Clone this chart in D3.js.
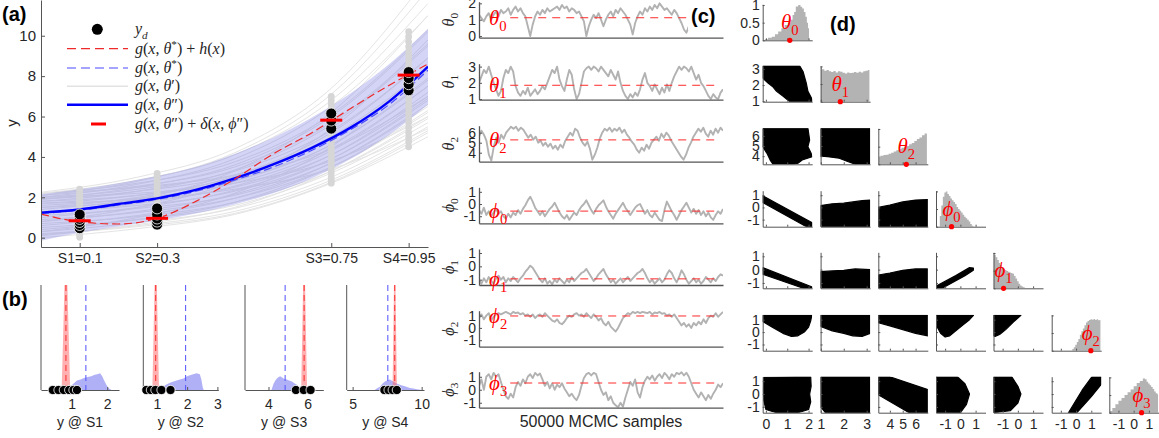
<!DOCTYPE html>
<html>
<head>
<meta charset="utf-8">
<script src="https://cdn.jsdelivr.net/npm/d3@7"></script>
<style>
  body { margin: 0; background: #fff; }
  svg { display: block; }
</style>
</head>
<body>
<svg id="fig" width="1159" height="438"></svg>
<script>
// ---------------- data ----------------
// (a) model curves sampled on a common x grid
const curveX    = [0, 0.1, 0.2, 0.3, 0.4, 0.5, 0.6, 0.7, 0.8, 0.9, 1.0];
const gPost     = [1.24, 1.40, 1.67, 1.95, 2.37, 2.94, 3.63, 4.45, 5.45, 6.75, 8.47];   // g(x, θ'')
const gTrue     = [1.20, 1.36, 1.62, 1.90, 2.30, 2.85, 3.50, 4.33, 5.35, 6.60, 8.30];   // g(x, θ*)
const gTrueDisc = [1.17, 0.79, 0.68, 0.96, 1.80, 2.90, 4.15, 5.20, 6.40, 7.55, 8.60];   // g(x, θ*) + h(x)
const bandLo    = [-0.15, 0.25, 0.55, 0.85, 1.20, 1.65, 2.20, 2.95, 3.90, 5.10, 6.60];
const bandHi    = [2.15, 2.40, 2.70, 3.05, 3.50, 4.15, 4.95, 5.95, 7.15, 8.60, 10.35];

// prior draws g(x, θ'), values at x = 0, .25, .5, .75, 1
const priorX = [0, 0.25, 0.5, 0.75, 1];
const priorCurves = [
  [0.00, 0.45, 1.15, 2.70, 5.00], [0.15, 0.60, 1.30, 2.85, 5.30], [0.30, 0.75, 1.45, 3.00, 5.50],
  [0.50, 0.90, 1.60, 3.20, 5.70], [0.10, 0.65, 1.50, 3.30, 6.00], [0.70, 1.05, 1.75, 3.30, 5.90],
  [0.40, 0.90, 1.75, 3.50, 6.30], [0.90, 1.25, 1.95, 3.50, 6.20], [0.60, 1.10, 1.95, 3.70, 6.60],
  [1.10, 1.45, 2.10, 3.70, 6.50], [0.80, 1.30, 2.15, 3.90, 6.90], [1.30, 1.60, 2.30, 3.90, 6.80],
  [1.00, 1.50, 2.35, 4.10, 7.20], [1.50, 1.80, 2.50, 4.10, 7.00], [1.20, 1.70, 2.55, 4.30, 7.50],
  [1.60, 1.95, 2.70, 4.40, 7.50], [1.40, 1.90, 2.80, 4.60, 7.90], [1.80, 2.10, 2.85, 4.60, 7.80],
  [1.70, 2.10, 3.00, 4.90, 8.30], [1.90, 2.30, 3.10, 5.00, 8.40], [1.50, 2.00, 3.05, 5.20, 8.90],
  [2.00, 2.40, 3.30, 5.30, 8.90], [1.80, 2.30, 3.35, 5.60, 9.50], [2.10, 2.55, 3.50, 5.70, 9.60],
  [1.90, 2.50, 3.60, 6.00, 10.2], [2.20, 2.70, 3.75, 6.10, 10.3], [2.00, 2.65, 3.90, 6.50, 11.0],
  [2.20, 2.85, 4.10, 6.80, 11.6], [2.10, 2.80, 4.20, 7.10, 12.3], [2.25, 3.00, 4.40, 7.40, 12.9],
  [0.20, 0.55, 1.20, 2.75, 5.20], [0.30, 1.00, 2.20, 4.50, 8.50], [0.80, 1.50, 2.80, 5.40, 9.80],
  [1.20, 1.90, 3.30, 6.20, 11.0], [2.00, 2.20, 2.70, 3.80, 6.00], [1.70, 1.90, 2.40, 3.40, 5.40],
  [2.20, 2.50, 3.10, 4.40, 7.00]
];

// measurement sites
const sitesX = [0.1, 0.3, 0.75, 0.95];
const siteLabels = ["S1=0.1", "S2=0.3", "S3=0.75", "S4=0.95"];
const siteNames = ["S1", "S2", "S3", "S4"];

// observed data y_d at each site
const yObs = [
  [0.47, 0.63, 0.78, 0.93, 1.05, 1.15],
  [0.65, 0.80, 0.95, 1.15, 1.45],
  [5.40, 5.80, 6.15],
  [7.30, 7.60, 7.90, 8.20]
];
// prior predictive values at each site
const predDots = [
  [0.02, 0.15, 0.22, 0.35, 0.41, 0.55, 0.62, 0.70, 0.84, 0.90, 1.03, 1.12, 1.20, 1.31, 1.38, 1.50, 1.57, 1.66, 1.75, 1.86, 1.95, 2.04, 2.15, 2.27, 2.40],
  [0.60, 0.72, 0.80, 0.93, 1.02, 1.15, 1.24, 1.36, 1.45, 1.58, 1.66, 1.79, 1.88, 2.00, 2.10, 2.22, 2.33, 2.45, 2.56, 2.68, 2.80, 2.92, 3.05, 3.18],
  [2.70, 2.85, 3.00, 3.20, 3.35, 3.50, 3.70, 3.85, 4.00, 4.20, 4.35, 4.50, 4.70, 4.85, 5.00, 5.20, 5.35, 5.50, 5.70, 5.85, 6.05, 6.20, 6.40, 6.60, 6.80, 7.00],
  [4.50, 4.75, 4.95, 5.20, 5.45, 5.70, 5.90, 6.15, 6.40, 6.60, 6.85, 7.10, 7.30, 7.55, 7.80, 8.00, 8.25, 8.50, 8.75, 9.00, 9.20, 9.45, 9.70, 9.95, 10.2]
];
// posterior mean of g + δ at each site, and g(x, θ'') at each site
const siteCorrected = [0.84, 0.96, 5.82, 8.05];
const siteModel = [1.40, 1.95, 4.85, 7.55];

// (b) predictive densities at each site: [y, density]
const blueDens = [
  [[0.85,0],[0.95,0.03],[1.05,0.06],[1.15,0.09],[1.25,0.10],[1.35,0.115],[1.45,0.125],[1.55,0.13],[1.65,0.145],[1.72,0.15],[1.80,0.16],[1.86,0.13],[1.90,0.10],[1.96,0.06],[2.03,0.02],[2.12,0]],
  [[1.10,0],[1.20,0.03],[1.30,0.05],[1.43,0.07],[1.55,0.08],[1.65,0.09],[1.76,0.10],[1.88,0.11],[2.00,0.13],[2.09,0.14],[2.20,0.15],[2.31,0.16],[2.42,0.15],[2.47,0.10],[2.52,0.02],[2.55,0]],
  [[4.15,0],[4.26,0.06],[4.35,0.09],[4.43,0.11],[4.52,0.125],[4.60,0.13],[4.70,0.12],[4.77,0.11],[4.85,0.105],[4.94,0.10],[5.05,0.09],[5.20,0.08],[5.32,0.065],[5.45,0.05],[5.55,0.03],[5.63,0.015],[5.70,0]],
  [[6.60,0],[6.80,0.02],[6.98,0.03],[7.15,0.06],[7.34,0.08],[7.50,0.09],[7.70,0.10],[7.82,0.09],[7.94,0.08],[8.15,0.065],[8.42,0.05],[8.65,0.04],[8.90,0.03],[9.15,0.02],[9.39,0.015],[9.65,0.008],[9.90,0.003],[10.0,0]]
];
const redDens = [
  [[0.72,0],[0.78,0.75],[0.84,1.55],[0.90,0.75],[0.96,0]],
  [[0.85,0],[0.905,0.75],[0.96,1.55],[1.015,0.75],[1.07,0]],
  [[5.67,0],[5.745,0.75],[5.82,1.55],[5.895,0.75],[5.97,0]],
  [[7.89,0],[7.97,0.75],[8.05,1.55],[8.13,0.75],[8.21,0]]
];

// (c) MCMC chains over 50000 samples
const traces = [
  [1.3,1.1,0.9,1.2,1.4,1.0,1.3,1.5,1.2,1.6,1.4, 1.5,1.7,1.3,1.6,1.8,1.5,1.7,1.4,1.2, 0.6,0.0,0.7, 1.2,1.5,1.3,1.6,1.4,1.7,1.5,1.6,
   1.7,1.8,1.6,1.9,1.7,1.8,1.5,1.7,1.6,1.4,1.5,1.2,0.9, 0.0,0.6, 1.0,1.3,1.1,1.4,1.0, 0.6,1.0, 1.3,1.5,1.2,1.6,1.4,1.7,1.5,1.3,1.0,0.7,
   0.1,0.8, 1.2,1.5,1.3,1.7,1.5,1.8,1.6,1.9,1.7,2.0,1.8,1.6,1.7,1.5,1.3,1.6,1.4,1.1,0.8, 0.4,0.2,0.6, 1.0,1.3,1.1,1.4,1.2,1.5,1.3,1.4,1.2,1.5,1.3,1.4,1.2,1.3],
  [2.0,2.4,2.8,2.6,3.0, 2.5,2.0,1.6,1.2,1.5, 2.3,2.8,2.6,3.0,2.7, 1.8,1.4,1.2,1.5,1.3,1.7,1.2,1.4,1.6,1.3,1.5, 1.8,1.6,2.0,2.4, 2.8,2.6,3.0,2.2,
   1.8,1.5,2.2, 2.8,2.5,1.6, 1.0,1.3,2.0, 2.7,2.9,3.0,2.8,3.0,2.9,2.7,3.0,2.8,2.6, 2.4,2.8,2.5,2.2,2.7,2.0, 1.5,1.2,1.0,1.3,1.1,1.4,1.2,1.6,
   2.2,2.6,2.0, 1.8,1.5,1.9,1.6,1.3,1.7,1.4,1.9,1.5,2.0,2.4, 2.7,3.0,2.8,3.0,2.9,2.7,3.0,2.6, 2.2,2.5,2.0,1.8,1.5,1.2,1.0, 1.3,1.1,1.0,1.4,1.6],
  [5.6,6.2,5.8,5.2, 3.8,3.2,4.6, 5.5,5.0,5.8,5.4,6.0, 6.3,6.6,6.4,6.6,6.2,6.5,6.3,5.9, 5.5,5.8,5.3,5.6,5.0, 5.2,4.7,5.0,4.6,4.9,4.4,4.7,
   4.3,4.8,4.5,5.2, 5.6,6.0,5.7,6.4,6.2, 5.5,5.0,4.7,5.1,4.4, 3.3,3.8,4.5, 5.4,6.0,6.4,6.2,6.5,6.1,6.4,6.2,6.5,6.0,6.3,5.8,
   5.5,5.1,4.8,4.3,4.0,4.5, 4.2,4.8,4.4,5.0,5.3, 5.6,5.2,5.9,5.5,6.0,5.7,5.2,4.8, 4.4,4.0,3.6,3.3,3.8,4.5,5.0, 5.6,6.0,6.4,6.1,6.5,5.9,5.6,6.2,5.8,6.4,6.0,6.5,6.2],
  [-0.5,-0.8,-0.3,-0.9,-0.6,-1.0,-0.7,-0.4,-0.8, -0.6,-1.0,-1.2,-0.8,-1.1,-0.7, -0.9,-0.5,-0.8,-0.4,-0.1,0.3, 0.6,0.2,-0.3,-0.6,
   -0.9,-0.6,-1.0,-0.7,-0.4,-0.2, 0.1,-0.3,-0.7,-1.0,-1.2,-0.9, -1.3,-1.0,-0.7,-0.9,-0.5,-0.2,0.0, 0.3,-0.1,-0.5,-0.8,-0.4,-0.1,0.1,
   0.3,-0.2,-0.6,-0.9,-1.2,-0.8,-0.5,-0.2, 0.1,-0.3,-0.6,-0.9,-0.6,-0.3,-0.1, 0.0,-0.4,-0.8,-0.5,-0.9,-1.1,-0.7,-1.0,-1.3,-1.4,
   -0.5,0.2,-0.2,-0.6,-0.9,-1.3,-0.9, -0.5,-0.2,0.1,-0.3,-0.7,-0.4,-0.8,-0.5, -0.9,-0.6,-1.0,-0.7,-1.1,-1.3,-0.9,-0.6,-0.8,-0.4],
  [-1.0,-1.3,-0.9,-1.2,-0.8,-1.1,-1.3,-0.9,-0.7,-1.0,-0.8, -1.2,-0.9,-1.1,-0.8,-1.0,-1.2,-0.9,-0.7,-0.4,-0.2, 0.05,-0.1,-0.4,-0.7,-1.0,
   -1.2,-0.9,-1.3,-1.1,-1.35,-1.0,-1.2,-0.9,-1.1,-1.3, -1.0,-1.2,-0.8,-1.1,-0.9,-0.7,-0.5,-0.4, -0.2,-0.5,-0.8,-1.1,-0.9,-0.6,-0.4,
   -0.2,-0.6,-0.9,-1.2,-1.0,-1.3,-1.1,-0.9, -1.2,-1.0,-0.8,-1.1,-0.9,-0.7,-0.5,-0.4, -0.2,-0.5,-0.9,-1.2,-1.0,-1.3,-1.1,
   -0.9,-1.2,-1.0,-0.6,-0.3,-0.5,-0.9, -1.2,-0.8,-0.3,-0.6,-1.0,-1.3,-1.1,-0.9, -1.2,-1.0,-1.3,-1.1,-0.8,-1.0,-1.2,-0.9,-1.1,-0.8,-0.6,-0.7],
  [0.8,1.1,0.7,1.0,1.2,0.6,0.9,1.1,1.2, 1.1,1.2,1.3,1.2,1.1,1.3,1.2,1.25,1.1,1.2,1.0,1.1, 0.9,1.1,0.8,1.0,1.1,0.9,1.2,1.0,0.8,0.6,
   0.5,0.7,0.4,0.3,0.5,0.8,1.0,0.9,1.1,1.2, 1.0,1.1,0.9,1.2,1.0,0.8,1.1,0.9,0.6,0.8, 0.4,0.2,0.5,0.1,-0.1,-0.3,0.0,0.4,
   0.8,1.0,1.2,1.1,1.3,1.2,1.3,1.2, 1.3,1.25,1.2,1.3,1.1,1.25,1.2,1.3,1.15,1.2,1.0,1.1,0.9, 1.1,0.8,0.5,0.2,0.4,0.1,0.3,0.0,0.4,
   0.2,0.5,0.3,0.7,0.4,0.8,1.0,0.9,1.2,0.9,1.1,1.3],
  [0.3,0.8,0.0,1.0,1.2,0.8,1.3,1.0,1.2, 0.6,0.0,-0.5,-0.7,-0.3,-0.6,0.2,0.6, 0.3,0.8,0.5,1.0,1.2,0.9,1.3,1.1,1.25,
   0.8,0.3,0.6,0.1,0.5,0.0,0.4,0.2,0.5,0.1, -0.2,-0.5,-0.3,-0.6,-0.8,-0.4,0.3, 0.9,1.2,1.3,1.1,1.3,1.2,
   0.6,0.0,-0.4,-0.2,-0.8,-0.5,-1.0,-1.2,-1.35,-1.0,-1.3, -0.6,0.0,0.6,0.3,0.8,-0.2,-0.6,
   0.2,0.7,1.0,0.8,1.1,0.7,1.0,1.2,0.9,1.3,1.1,0.8,1.2,1.0,1.3,1.2,1.35,1.1,1.3,1.0,
   0.5,0.0,-0.3,-0.6,-0.2,-0.5,-0.8,-0.4,-0.7,-0.3,0.0, 0.4,0.2,0.5]
];
// true parameter values
const trueVals = [1.12, 1.85, 5.28, -0.58, -0.94, 0.97, 0.52];
const paramSym = [["θ","0"],["θ","1"],["θ","2"],["ϕ","0"],["ϕ","1"],["ϕ","2"],["ϕ","3"]];
const traceTicks = [[0,1,2],[1,2,3],[4,5,6],[-1,0,1],[-1,0,1],[-1,0,1],[-1,0,1]];

// (d) marginal histograms: [value, relative frequency]
const hists = [
  [[-0.1,0],[0.0,0.03],[0.2,0.07],[0.35,0.10],[0.5,0.17],[0.65,0.25],[0.8,0.34],[0.96,0.43],[1.1,0.50],[1.2,0.58],[1.3,0.72],[1.35,0.80],[1.45,0.96],[1.58,1.0],[1.66,0.95],[1.74,0.90],[1.82,0.80],[1.89,0.67],[1.95,0.50],[2.0,0.34],[2.04,0]],
  [[1.0,0.97],[1.1,0.92],[1.2,0.88],[1.3,0.90],[1.4,0.86],[1.5,0.84],[1.6,0.87],[1.7,0.83],[1.8,0.86],[1.9,0.85],[2.0,0.82],[2.1,0.80],[2.2,0.83],[2.3,0.81],[2.4,0.82],[2.5,0.84],[2.6,0.82],[2.7,0.85],[2.8,0.83],[2.9,0.86],[3.0,0.88],[3.1,0.90],[3.12,0.90]],
  [[3.15,0.22],[3.4,0.24],[3.6,0.26],[3.8,0.27],[4.0,0.30],[4.2,0.33],[4.4,0.36],[4.6,0.40],[4.8,0.43],[5.0,0.47],[5.2,0.50],[5.4,0.52],[5.6,0.57],[5.8,0.60],[6.0,0.66],[6.2,0.72],[6.4,0.76],[6.6,0.82],[6.8,0.87],[6.88,0.87]],
  [[-1.4,0],[-1.3,0.30],[-1.2,0.60],[-1.1,0.85],[-1.0,0.97],[-0.9,1.0],[-0.8,0.93],[-0.7,0.87],[-0.6,0.80],[-0.5,0.75],[-0.4,0.70],[-0.3,0.64],[-0.2,0.56],[-0.1,0.50],[0.0,0.45],[0.1,0.40],[0.2,0.34],[0.3,0.28],[0.4,0.24],[0.5,0.20],[0.6,0.15],[0.7,0.08],[0.8,0.03],[0.9,0]],
  [[-1.6,1.0],[-1.5,0.95],[-1.4,0.88],[-1.3,0.80],[-1.2,0.72],[-1.1,0.66],[-1.0,0.60],[-0.9,0.55],[-0.8,0.52],[-0.7,0.49],[-0.6,0.47],[-0.5,0.45],[-0.4,0.43],[-0.3,0.41],[-0.2,0.35],[-0.1,0.28],[0.0,0.20],[0.1,0.13],[0.2,0.08],[0.3,0.05],[0.4,0.03],[0.5,0.01],[0.56,0]],
  [[-0.3,0],[-0.2,0.05],[-0.1,0.10],[0.0,0.17],[0.1,0.25],[0.2,0.33],[0.3,0.45],[0.4,0.55],[0.5,0.63],[0.6,0.72],[0.7,0.80],[0.8,0.84],[0.9,0.87],[1.0,0.89],[1.1,0.88],[1.2,0.90],[1.3,0.87],[1.4,0.89],[1.5,0.86],[1.6,0.87]],
  [[-1.6,0],[-1.5,0.05],[-1.3,0.13],[-1.1,0.24],[-0.9,0.34],[-0.7,0.42],[-0.5,0.50],[-0.3,0.58],[-0.1,0.66],[0.1,0.75],[0.3,0.84],[0.5,0.90],[0.7,0.97],[0.8,0.95],[0.9,0.88],[1.0,0.83],[1.1,0.78],[1.2,0.73],[1.3,0.67],[1.4,0.60],[1.5,0.55],[1.6,0.52]]
];
// (d) outlines of the pairwise sample clouds: key "row-col", points [col param, row param]
const clouds = {
  "1-0": [[-0.15,3.2],[1.58,3.2],[1.74,2.84],[1.89,2.13],[1.97,1.61],[2.17,1.1],[2.17,0.97],[1.12,0.97],[0.81,1.31],[0.5,1.61],[0.34,1.88],[0.1,2.13],[-0.15,2.44]],
  "2-0": [[-0.15,6.75],[1.97,6.75],[2.05,5.6],[1.97,4.94],[2.12,4.28],[2.17,3.95],[1.7,3.62],[1.5,3.3],[1.3,3.2],[0.34,3.2],[0.2,3.62],[0.05,4.28],[-0.15,4.94]],
  "2-1": [[0.99,6.75],[3.15,6.75],[3.15,3.2],[2.5,3.2],[2.2,3.45],[1.8,3.8],[1.3,3.95],[0.99,4.0]],
  "3-0": [[-0.15,0.95],[2.17,-1.25],[2.17,-1.58],[1.9,-1.58],[-0.15,0.4]],
  "3-1": [[0.99,-1.58],[0.99,0.15],[1.5,0.3],[2.0,0.35],[2.4,0.45],[2.8,0.55],[3.15,0.6],[3.15,-1.58]],
  "3-2": [[3.1,-1.58],[3.1,0.0],[4,0.2],[5,0.45],[6,0.6],[6.95,0.65],[6.95,-1.58]],
  "4-0": [[-0.15,0.15],[2.17,-1.3],[2.17,-1.4],[1.75,-1.4],[-0.15,-0.35]],
  "4-1": [[0.99,-1.4],[0.99,-0.15],[1.5,-0.1],[2,-0.05],[2.5,0.05],[3.15,0.0],[3.15,-1.4]],
  "4-2": [[3.1,-1.4],[3.1,-0.4],[4,-0.25],[5,-0.05],[6,0.05],[6.95,0.05],[6.95,-1.4]],
  "4-3": [[-1.6,-1.4],[-1.2,-1.4],[0.3,-0.45],[0.85,-0.05],[0.86,0.12],[0.6,0.15],[-0.3,-0.45],[-1.6,-1.25]],
  "5-0": [[-0.15,1.35],[2.15,1.35],[2.1,0.9],[2.0,0.4],[1.8,0.0],[1.5,-0.3],[1.2,-0.35],[0.8,-0.1],[0.3,0.4],[-0.15,0.85]],
  "5-1": [[0.99,1.35],[3.15,1.35],[3.15,-0.1],[2.8,-0.35],[2.4,-0.3],[2,-0.1],[1.5,0.1],[0.99,0.45]],
  "5-2": [[3.1,1.35],[6.95,1.35],[6.95,-0.3],[6,-0.1],[5,0.2],[4,0.5],[3.1,0.75]],
  "5-3": [[-1.6,1.35],[0.86,1.35],[0.6,1.0],[0.2,0.6],[-0.3,0.1],[-0.7,-0.3],[-1.0,-0.4],[-1.3,-0.1],[-1.6,0.6]],
  "5-4": [[-1.6,1.35],[0.2,1.35],[-0.3,0.8],[-0.8,0.2],[-1.2,-0.2],[-1.5,-0.35],[-1.6,-0.3]],
  "6-0": [[-0.1,1.3],[1.4,1.35],[2.1,1.35],[2.12,0.6],[2.05,0.0],[2.1,-0.6],[2.0,-1.2],[1.5,-1.45],[0.5,-1.45],[0.0,-1.2],[-0.1,-0.5],[-0.12,0.3]],
  "6-1": [[0.99,1.35],[3.15,1.35],[3.15,-1.45],[1.2,-1.45],[1.0,-1.0]],
  "6-2": [[3.1,1.35],[4,1.35],[6.95,0.35],[6.95,-1.45],[5.5,-1.45],[3.1,-0.05]],
  "6-3": [[-1.6,1.35],[-0.2,1.35],[0.3,0.8],[0.6,0.0],[0.4,-0.8],[0.0,-1.45],[-1.6,-1.45]],
  "6-4": [[-1.6,1.35],[-0.4,1.35],[0.0,0.6],[0.2,0.0],[0.0,-0.7],[-0.5,-1.3],[-1.6,-1.45]],
  "6-5": [[-0.5,-1.45],[0.05,-1.45],[1.0,-0.2],[1.65,0.75],[1.65,1.35],[1.05,1.35],[0.4,0.3]]
};

// ---------------- drawing ----------------
const SANS = '"Liberation Sans", Arial, Helvetica, sans-serif';
const SERIF = '"Liberation Serif", "DejaVu Serif", "Times New Roman", serif';
const AX = "#555555";
const TXT = "#262626";
const fmt = d => (d < 0 ? "-" : "") + Math.abs(d);   // plain hyphen minus, no forced decimals
const svg = d3.select("#fig");
const defs = svg.append("defs");
let clipId = 0;
function clipRect(x, y, w, h) {
  const id = "clip" + (clipId++);
  defs.append("clipPath").attr("id", id).append("rect")
    .attr("x", x).attr("y", y).attr("width", w).attr("height", h);
  return "url(#" + id + ")";
}
function styleAxis(g, fs) {
  g.attr("color", AX).attr("font-family", SANS).attr("font-size", fs);
  g.selectAll(".tick text").attr("fill", TXT);
  return g;
}
// math-style text: parts = [string, kind] with kind in i, n, subi, subn, supn
function mathText(parent, x, y, parts, size, color, anchor) {
  const t = parent.append("text").attr("x", x).attr("y", y)
    .attr("fill", color || TXT).attr("text-anchor", anchor || "start")
    .style("font-family", SERIF).style("font-size", size + "px");
  let shift = 0;
  parts.forEach(([s, kind]) => {
    let target = 0, fs = size;
    if (kind.startsWith("sub")) { target = size * 0.28; fs = size * 0.7; }
    if (kind.startsWith("sup")) { target = -size * 0.38; fs = size * 0.7; }
    const italic = kind === "i" || kind === "subi";
    t.append("tspan").attr("dy", target - shift).text(s)
      .style("font-size", fs + "px").style("font-style", italic ? "italic" : "normal");
    shift = target;
  });
  return t;
}
function panelLabel(x, y, s) {
  svg.append("text").attr("x", x).attr("y", y).text(s)
    .attr("fill", "#000").style("font-family", SANS).style("font-weight", "bold").style("font-size", "20px");
}

// ===== (a) =====
{
  const x = d3.scaleLinear().domain([0, 1]).range([41, 428]);
  const y = d3.scaleLinear().domain([-0.46, 11.77]).range([247, 0]);
  const g = svg.append("g");
  const plot = g.append("g").attr("clip-path", clipRect(41, 0, 387, 247));
  const line = d3.line().x(d => x(d[0])).y(d => y(d[1])).curve(d3.curveMonotoneX);

  priorCurves.forEach(c => {
    plot.append("path").attr("d", line(priorX.map((v, i) => [v, c[i]])))
      .attr("fill", "none").attr("stroke", "#e4e4e4").attr("stroke-width", 1);
  });
  const band = d3.area().x(d => x(d[0])).y0(d => y(d[1])).y1(d => y(d[2])).curve(d3.curveMonotoneX);
  plot.append("path").attr("d", band(curveX.map((v, i) => [v, bandLo[i], bandHi[i]])))
    .attr("fill", "#6464e0").attr("fill-opacity", 0.28);

  sitesX.forEach((sx, k) => {
    predDots[k].forEach(v => plot.append("circle").attr("cx", x(sx)).attr("cy", y(v))
      .attr("r", 3.4).attr("fill", "#d6d6d6"));
  });

  plot.append("path").attr("d", line(curveX.map((v, i) => [v, gTrue[i]])))
    .attr("fill", "none").attr("stroke", "#4a4aff").attr("stroke-width", 1.2).attr("stroke-dasharray", "8,4");
  plot.append("path").attr("d", line(curveX.map((v, i) => [v, gPost[i]])))
    .attr("fill", "none").attr("stroke", "#0000ff").attr("stroke-width", 2.4);
  plot.append("path").attr("d", line(curveX.map((v, i) => [v, gTrueDisc[i]])))
    .attr("fill", "none").attr("stroke", "#ee2a2a").attr("stroke-width", 1.2).attr("stroke-dasharray", "8,4");

  sitesX.forEach((sx, k) => {
    yObs[k].forEach(v => g.append("circle").attr("cx", x(sx)).attr("cy", y(v))
      .attr("r", 5.5).attr("fill", "#000").attr("stroke", "#fff").attr("stroke-width", 0.8));
  });
  sitesX.forEach((sx, k) => {
    g.append("line").attr("x1", x(sx) - 11).attr("x2", x(sx) + 11)
      .attr("y1", y(siteCorrected[k])).attr("y2", y(siteCorrected[k]))
      .attr("stroke", "#ff0000").attr("stroke-width", 3);
  });

  styleAxis(g.append("g").attr("transform", "translate(41,0)")
    .call(d3.axisLeft(y).tickValues([0, 2, 4, 6, 8, 10]).tickFormat(fmt).tickSize(-4).tickSizeOuter(0).tickPadding(5)), 15);
  styleAxis(g.append("g").attr("transform", "translate(0,247)")
    .call(d3.axisBottom(x).tickValues(sitesX).tickFormat((d, i) => siteLabels[i])
      .tickSize(-4).tickSizeOuter(0).tickPadding(6)), 14);
  g.append("text").attr("transform", "translate(17,123) rotate(-90)").attr("text-anchor", "middle")
    .attr("fill", TXT).style("font-family", SANS).style("font-size", "15px").text("y");

  // legend
  const L = g.append("g");
  const rows = [29.3, 48.7, 68, 86.3, 104.7, 124];
  L.append("circle").attr("cx", 97.3).attr("cy", rows[0]).attr("r", 5.5).attr("fill", "#000");
  L.append("line").attr("x1", 67).attr("x2", 128).attr("y1", rows[1]).attr("y2", rows[1])
    .attr("stroke", "#ee2a2a").attr("stroke-width", 1.2).attr("stroke-dasharray", "9,5");
  L.append("line").attr("x1", 67).attr("x2", 128).attr("y1", rows[2]).attr("y2", rows[2])
    .attr("stroke", "#4a4aff").attr("stroke-width", 1.2).attr("stroke-dasharray", "9,5");
  L.append("line").attr("x1", 67).attr("x2", 128).attr("y1", rows[3]).attr("y2", rows[3])
    .attr("stroke", "#e2e2e2").attr("stroke-width", 1.5);
  L.append("line").attr("x1", 67).attr("x2", 128).attr("y1", rows[4]).attr("y2", rows[4])
    .attr("stroke", "#0000ff").attr("stroke-width", 2.4);
  L.append("line").attr("x1", 91).attr("x2", 106).attr("y1", rows[5]).attr("y2", rows[5])
    .attr("stroke", "#ff0000").attr("stroke-width", 3);
  const gx = [["g","i"],["(","n"],["x","i"],[", ","n"]];
  const legendTexts = [
    [["y","i"],["d","subi"]],
    [...gx, ["θ","i"],["*","supn"],[")","n"],[" + ","n"],["h","i"],["(","n"],["x","i"],[")","n"]],
    [...gx, ["θ","i"],["*","supn"],[")","n"]],
    [...gx, ["θ","i"],["′","n"],[")","n"]],
    [...gx, ["θ","i"],["″","n"],[")","n"]],
    [...gx, ["θ","i"],["″","n"],[")","n"],[" + ","n"],["δ","i"],["(","n"],["x","i"],[", ","n"],["ϕ","i"],["″","n"],[")","n"]]
  ];
  legendTexts.forEach((p, i) => mathText(L, 135, rows[i] + 5, p, 16, TXT));
}
panelLabel(2, 21, "(a)");

// ===== (b) =====
{
  const boxes = [
    { x0: 41,    x1: 119,   dom: [0.14, 2.33], ticks: [1, 2] },
    { x0: 143.3, x1: 218.3, dom: [0.55, 3.03], ticks: [1, 2, 3] },
    { x0: 245,   x1: 323.3, dom: [2.8, 6.8],   ticks: [4, 6] },
    { x0: 346.7, x1: 424,   dom: [4.57, 10.17], ticks: [5, 10] }
  ];
  const y = d3.scaleLinear().domain([0, 1]).range([390, 285]);
  boxes.forEach((b, k) => {
    const x = d3.scaleLinear().domain(b.dom).range([b.x0, b.x1]);
    const g = svg.append("g");
    const plot = g.append("g").attr("clip-path", clipRect(b.x0, 285, b.x1 - b.x0, 105));
    const area = d3.area().x(d => x(d[0])).y0(y(0)).y1(d => y(d[1]));
    plot.append("path").attr("d", area(blueDens[k])).attr("fill", "#7070f0").attr("fill-opacity", 0.55);
    plot.append("path").attr("d", area(redDens[k])).attr("fill", "#ff6060").attr("fill-opacity", 0.5);
    plot.append("line").attr("x1", x(siteModel[k])).attr("x2", x(siteModel[k])).attr("y1", 285).attr("y2", 390)
      .attr("stroke", "#5050ff").attr("stroke-width", 1).attr("stroke-dasharray", "6,4");
    plot.append("line").attr("x1", x(siteCorrected[k])).attr("x2", x(siteCorrected[k])).attr("y1", 285).attr("y2", 390)
      .attr("stroke", "#ff2a2a").attr("stroke-width", 1).attr("stroke-dasharray", "6,4");
    styleAxis(g.append("g").attr("transform", "translate(0,390)")
      .call(d3.axisBottom(x).tickValues(b.ticks).tickFormat(fmt).tickSize(-3).tickSizeOuter(0).tickPadding(9)), 14);
    g.append("line").attr("x1", b.x0).attr("x2", b.x0).attr("y1", 285).attr("y2", 390).attr("stroke", AX);
    yObs[k].forEach(v => g.append("circle").attr("cx", x(v)).attr("cy", 390).attr("r", 4.6)
      .attr("fill", "#000").attr("stroke", "#fff").attr("stroke-width", 0.8));
    g.append("text").attr("x", (b.x0 + b.x1) / 2).attr("y", 427).attr("text-anchor", "middle")
      .attr("fill", TXT).style("font-family", SANS).style("font-size", "14px").text("y @ " + siteNames[k]);
  });
}
panelLabel(2, 306, "(b)");

// ===== (c) =====
{
  const x = d3.scaleLinear().domain([0, 50000]).range([479, 723]);
  const bottoms = [37.7, 99.7, 161.7, 223.3, 285, 346.7, 407.7];
  const doms = [[-0.1, 2.1], [0.96, 3.18], [3.1, 6.7], [-1.58, 1.37], [-1.4, 1.3], [-1.53, 1.4], [-1.38, 1.39]];
  const H = 36;
  traces.forEach((tr, r) => {
    const b = bottoms[r];
    const y = d3.scaleLinear().domain(doms[r]).range([b, b - H]);
    const g = svg.append("g");
    const plot = g.append("g").attr("clip-path", clipRect(479, b - H - 1, 244, H + 1));
    const n = tr.length;
    plot.append("path")
      .attr("d", d3.line().x((d, i) => x(i / (n - 1) * 50000)).y(d => y(d))(tr))
      .attr("fill", "none").attr("stroke", "#b2b2b2").attr("stroke-width", 1.9).attr("stroke-linejoin", "round");
    plot.append("line").attr("x1", x(6400)).attr("x2", x(49000))
      .attr("y1", y(trueVals[r])).attr("y2", y(trueVals[r]))
      .attr("stroke", "#ff2a2a").attr("stroke-width", 1).attr("stroke-dasharray", "8,6");
    styleAxis(g.append("g").attr("transform", "translate(479,0)")
      .call(d3.axisLeft(y).tickValues(traceTicks[r]).tickFormat(fmt).tickSize(-3).tickSizeOuter(0).tickPadding(3)), 14);
    styleAxis(g.append("g").attr("transform", `translate(0,${b})`)
      .call(d3.axisBottom(x).tickValues([]).tickSizeOuter(0)), 14);
    g.selectAll(".domain").attr("stroke-width", 1.3);
    const [sym, sub] = paramSym[r];
    mathText(g, 489, y(trueVals[r]) + 7, [[sym, "i"], [sub, "subn"]], 21, "#ff0000");
    const lab = mathText(g, 0, 0, [[sym, "i"], [sub, "subn"]], 16, TXT, "middle");
    lab.attr("transform", `translate(454,${b - H / 2}) rotate(-90)`);
  });
  svg.append("text").attr("x", 601).attr("y", 427).attr("text-anchor", "middle")
    .attr("fill", TXT).style("font-family", SANS).style("font-size", "16px").text("50000 MCMC samples");
  svg.append("rect").attr("x", 688).attr("y", 0).attr("width", 40).attr("height", 30).attr("fill", "#fff");
}
panelLabel(691, 23, "(c)");

// ===== (d) =====
{
  const cols = [762.7, 820.6, 878.3, 936.0, 993.5, 1051.7, 1109.3];
  const W = 49.5, H = 36;
  const bottoms = [40.3, 101.7, 164.3, 226.7, 288.3, 350.7, 412.7];
  const colDom = [[-0.15, 2.17], [0.99, 3.15], [3.1, 6.95], [-1.6, 1.65], [-1.6, 1.65], [-1.6, 1.65], [-1.6, 1.65]];
  const rowDom = [[0, 1.02], [0.97, 3.2], [3.2, 6.75], [-1.58, 1.37], [-1.4, 1.3], [-1.5, 1.4], [-1.45, 1.35]];
  const histTicks = [0, 0.5, 1];
  for (let r = 0; r < 7; r++) {
    for (let c = 0; c <= r; c++) {
      const x0 = cols[c], b = bottoms[r];
      const x = d3.scaleLinear().domain(colDom[c]).range([x0, x0 + W]);
      const diag = r === c;
      const y = d3.scaleLinear().domain(diag ? [0, 1.02] : rowDom[r]).range([b, b - H]);
      const g = svg.append("g");
      const plot = g.append("g").attr("clip-path", clipRect(x0, b - H, W, H));
      if (diag) {
        plot.append("path")
          .attr("d", d3.area().x(d => x(d[0])).y0(y(0)).y1(d => y(d[1])).curve(d3.curveStep)(hists[c]))
          .attr("fill", "#b3b3b3");
      } else {
        plot.append("path")
          .attr("d", d3.line().x(d => x(d[0])).y(d => y(d[1])).curve(d3.curveLinearClosed)(clouds[r + "-" + c]))
          .attr("fill", "#000").attr("stroke", "#000").attr("stroke-width", 1.2).attr("stroke-linejoin", "round");
      }
      const yt = diag ? histTicks : traceTicks[r];
      styleAxis(g.append("g").attr("transform", `translate(${x0},0)`)
        .call(d3.axisLeft(y).tickValues(yt).tickSize(-2).tickSizeOuter(0).tickPadding(3)
          .tickFormat(c === 0 ? fmt : () => "")), 14);
      styleAxis(g.append("g").attr("transform", `translate(0,${b})`)
        .call(d3.axisBottom(x).tickValues(traceTicks[c]).tickSize(-2).tickSizeOuter(0).tickPadding(6)
          .tickFormat(r === 6 ? fmt : () => "")), 14);
      if (diag) {
        const [sym, sub] = paramSym[c];
        mathText(g, x(trueVals[c]), b - H / 2 + 7, [[sym, "i"], [sub, "subn"]], 21, "#ff0000", "middle");
        g.append("circle").attr("cx", x(trueVals[c])).attr("cy", b).attr("r", 2.6).attr("fill", "#ff0000");
      }
    }
  }
}
panelLabel(830, 31, "(d)");
</script>
</body>
</html>
